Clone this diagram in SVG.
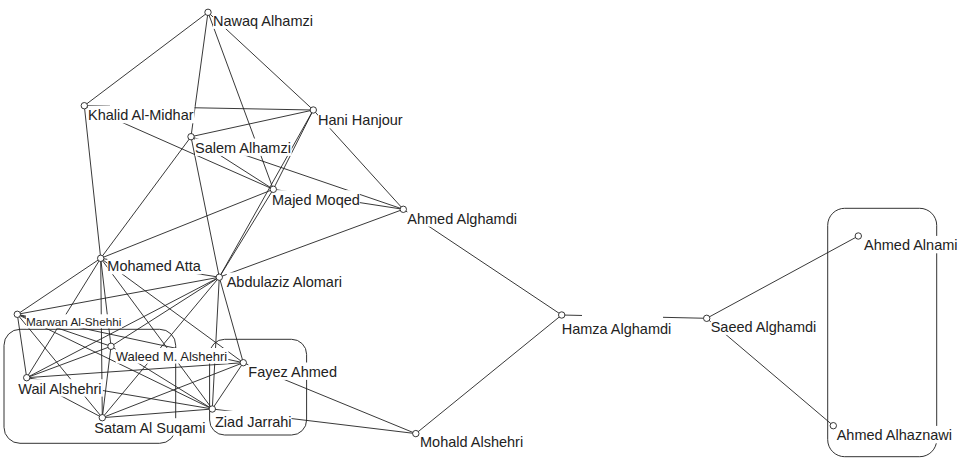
<svg xmlns="http://www.w3.org/2000/svg" width="966" height="458" viewBox="0 0 966 458">
<style>
.grp{fill:none;stroke:#333;stroke-width:1}
#edges line,#edges path{stroke:#222;stroke-width:0.9;fill:none}
.bg{fill:#fff}
.lb{font-family:"Liberation Sans",Arial,sans-serif;font-size:14.5px;fill:#222}
.nd{fill:#fff;stroke:#222;stroke-width:0.9}
</style>
<rect width="966" height="458" fill="#fff"/>
<g id="groups">
<rect class="grp" x="4" y="329.3" width="171.7" height="114" rx="16"/>
<rect class="grp" x="209.6" y="339.3" width="97" height="95.7" rx="15"/>
<rect class="grp" x="827.7" y="208.3" width="109" height="248.4" rx="17"/>
</g>
<g id="edges">
<line x1="208" y1="12.3" x2="84.3" y2="105.7"/>
<line x1="208" y1="12.3" x2="313.3" y2="110"/>
<line x1="208" y1="12.3" x2="191" y2="136.7"/>
<line x1="208" y1="12.3" x2="273.3" y2="189.3"/>
<line x1="84.3" y1="105.7" x2="313.3" y2="110"/>
<line x1="84.3" y1="105.7" x2="273.3" y2="189.3"/>
<line x1="84.3" y1="105.7" x2="100.7" y2="258.3"/>
<line x1="313.3" y1="110" x2="191" y2="136.7"/>
<line x1="313.3" y1="110" x2="273.3" y2="189.3"/>
<line x1="313.3" y1="110" x2="219.3" y2="277.2"/>
<line x1="313.3" y1="110" x2="403.3" y2="209.3"/>
<line x1="191" y1="136.7" x2="273.3" y2="189.3"/>
<line x1="191" y1="136.7" x2="403.3" y2="209.3"/>
<line x1="191" y1="136.7" x2="100.7" y2="258.3"/>
<line x1="191" y1="136.7" x2="219.3" y2="277.2"/>
<line x1="273.3" y1="189.3" x2="403.3" y2="209.3"/>
<line x1="273.3" y1="189.3" x2="100.7" y2="258.3"/>
<line x1="273.3" y1="189.3" x2="219.3" y2="277.2"/>
<line x1="219.3" y1="277.2" x2="403.3" y2="209.3"/>
<line x1="403.3" y1="209.3" x2="561.7" y2="315"/>
<line x1="561.7" y1="315" x2="415.8" y2="433.6"/>
<line x1="561.7" y1="315" x2="706.7" y2="318.3"/>
<line x1="706.7" y1="318.3" x2="858.3" y2="236"/>
<line x1="706.7" y1="318.3" x2="833.3" y2="425.7"/>
<line x1="100.7" y1="258.3" x2="219.3" y2="277.2"/>
<line x1="100.7" y1="258.3" x2="17.3" y2="314.3"/>
<line x1="100.7" y1="258.3" x2="26.7" y2="377.7"/>
<line x1="100.7" y1="258.3" x2="102.3" y2="417.7"/>
<line x1="100.7" y1="258.3" x2="111" y2="346.3"/>
<line x1="100.7" y1="258.3" x2="212.3" y2="409"/>
<line x1="100.7" y1="258.3" x2="243.3" y2="362.7"/>
<line x1="219.3" y1="277.2" x2="17.3" y2="314.3"/>
<line x1="219.3" y1="277.2" x2="26.7" y2="377.7"/>
<line x1="219.3" y1="277.2" x2="111" y2="346.3"/>
<line x1="219.3" y1="277.2" x2="102.3" y2="417.7"/>
<line x1="219.3" y1="277.2" x2="212.3" y2="409"/>
<line x1="219.3" y1="277.2" x2="243.3" y2="362.7"/>
<line x1="17.3" y1="314.3" x2="26.7" y2="377.7"/>
<line x1="17.3" y1="314.3" x2="102.3" y2="417.7"/>
<line x1="17.3" y1="314.3" x2="212.3" y2="409"/>
<line x1="17.3" y1="314.3" x2="111" y2="346.3"/>
<line x1="17.3" y1="314.3" x2="243.3" y2="362.7"/>
<line x1="26.7" y1="377.7" x2="111" y2="346.3"/>
<line x1="26.7" y1="377.7" x2="243.3" y2="362.7"/>
<line x1="26.7" y1="377.7" x2="212.3" y2="409"/>
<line x1="26.7" y1="377.7" x2="102.3" y2="417.7"/>
<line x1="102.3" y1="417.7" x2="212.3" y2="409"/>
<line x1="102.3" y1="417.7" x2="243.3" y2="362.7"/>
<line x1="243.3" y1="362.7" x2="212.3" y2="409"/>
<line x1="212.3" y1="409" x2="415.8" y2="433.6"/>
<line x1="243.3" y1="362.7" x2="415.8" y2="433.6"/>
<line x1="111" y1="346.3" x2="102.3" y2="417.7"/>
<line x1="111" y1="346.3" x2="212.3" y2="409"/>
</g>
<g id="n-nawaq"><rect class="bg" x="213" y="11.5" width="100.7" height="17.4"/><text class="lb" x="213" y="26">Nawaq Alhamzi</text><circle class="nd" cx="208" cy="12.3" r="3.2"/></g>
<g id="n-khalid"><rect class="bg" x="88" y="105.9" width="106.4" height="17.4"/><rect class="bg" x="110" y="104" width="53" height="4"/><text class="lb" x="88" y="120.4">Khalid Al-Midhar</text><circle class="nd" cx="84.3" cy="105.7" r="3.2"/></g>
<g id="n-hani"><rect class="bg" x="318" y="110.9" width="84.6" height="17.4"/><text class="lb" x="318" y="125.4">Hani Hanjour</text><circle class="nd" cx="313.3" cy="110" r="3.2"/></g>
<g id="n-salem"><rect class="bg" x="195" y="138.5" width="96.7" height="17.4"/><text class="lb" x="195" y="153">Salem Alhamzi</text><circle class="nd" cx="191" cy="136.7" r="3.2"/></g>
<g id="n-majed"><rect class="bg" x="272" y="190.2" width="87.8" height="17.4"/><text class="lb" x="272" y="204.7">Majed Moqed</text><circle class="nd" cx="273.3" cy="189.3" r="3.2"/></g>
<g id="n-ahmedalghamdi"><rect class="bg" x="407.3" y="209.2" width="110.4" height="17.4"/><text class="lb" x="407.3" y="223.7">Ahmed Alghamdi</text><circle class="nd" cx="403.3" cy="209.3" r="3.2"/></g>
<g id="n-atta"><rect class="bg" x="107.3" y="256.9" width="94.3" height="17.4"/><text class="lb" x="107.3" y="271.4">Mohamed Atta</text><circle class="nd" cx="100.7" cy="258.3" r="3.2"/></g>
<g id="n-abdulaziz"><rect class="bg" x="226.7" y="272.5" width="116" height="17.4"/><text class="lb" x="226.7" y="287">Abdulaziz Alomari</text><circle class="nd" cx="219.3" cy="277.2" r="3.2"/></g>
<g id="n-marwan"><rect class="bg" x="26" y="314.3" width="96" height="14"/><text class="lb" x="26" y="326.1" style="font-size:11.75px">Marwan Al-Shehhi</text><circle class="nd" cx="17.3" cy="314.3" r="3.2"/></g>
<g id="n-waleed"><rect class="bg" x="115.7" y="348" width="112.7" height="15.6"/><text class="lb" x="115.7" y="361" style="font-size:13px">Waleed M. Alshehri</text><circle class="nd" cx="111" cy="346.3" r="3.2"/></g>
<g id="n-wail"><rect class="bg" x="18.3" y="379.2" width="84.6" height="17.4"/><text class="lb" x="18.3" y="393.7">Wail Alshehri</text><circle class="nd" cx="26.7" cy="377.7" r="3.2"/></g>
<g id="n-fayez"><rect class="bg" x="248.3" y="362.5" width="89.5" height="17.4"/><text class="lb" x="248.3" y="377">Fayez Ahmed</text><circle class="nd" cx="243.3" cy="362.7" r="3.2"/></g>
<g id="n-satam"><rect class="bg" x="94.3" y="418.2" width="112" height="17.4"/><text class="lb" x="94.3" y="432.7">Satam Al Suqami</text><circle class="nd" cx="102.3" cy="417.7" r="3.2"/></g>
<g id="n-ziad"><rect class="bg" x="215" y="410.8" width="76.5" height="19.1"/><text class="lb" x="215" y="427">Ziad Jarrahi</text><circle class="nd" cx="212.3" cy="409" r="3.2"/></g>
<g id="n-mohald"><rect class="bg" x="420" y="432.5" width="104" height="17.4"/><text class="lb" x="420" y="447">Mohald Alshehri</text><circle class="nd" cx="415.8" cy="433.6" r="3.2"/></g>
<g id="n-hamza"><rect class="bg" x="561.7" y="319.2" width="110.4" height="17.4"/><rect class="bg" x="582" y="314" width="81" height="6"/><text class="lb" x="561.7" y="333.7">Hamza Alghamdi</text><circle class="nd" cx="561.7" cy="315" r="3.2"/></g>
<g id="n-saeed"><rect class="bg" x="710.7" y="317.5" width="106.4" height="17.4"/><text class="lb" x="710.7" y="332">Saeed Alghamdi</text><circle class="nd" cx="706.7" cy="318.3" r="3.2"/></g>
<g id="n-alnami"><rect class="bg" x="864" y="235.9" width="94.3" height="17.4"/><text class="lb" x="864" y="250.4">Ahmed Alnami</text><circle class="nd" cx="858.3" cy="236" r="3.2"/></g>
<g id="n-alhaznawi"><rect class="bg" x="836.7" y="425.9" width="116" height="17.4"/><text class="lb" x="836.7" y="440.4">Ahmed Alhaznawi</text><circle class="nd" cx="833.3" cy="425.7" r="3.2"/></g>
</svg>
